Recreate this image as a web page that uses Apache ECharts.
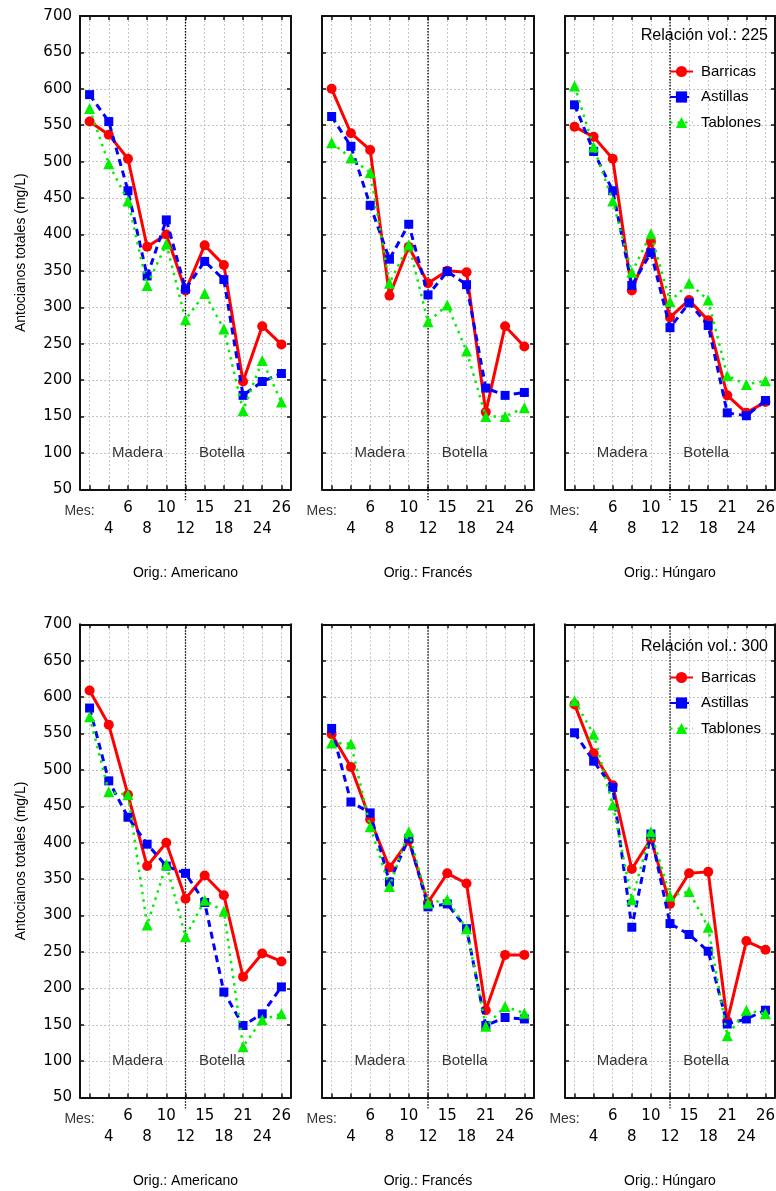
<!DOCTYPE html>
<html>
<head>
<meta charset="utf-8">
<script src="https://cdn.jsdelivr.net/npm/echarts@6/dist/echarts.min.js"></script>
<style>
  html, body { margin: 0; padding: 0; background: #fff; }
  #chart { width: 776px; height: 1191px; }
</style>
</head>
<body>
<div id="chart"></div>
<script>
// Month labels along the x axis (the first slot carries the "Mes:" caption)
const MONTH_LABELS = ['Mes:', '4', '6', '8', '10', '12', '15', '18', '21', '24', '26'];
const ORIGINS = ['Americano', 'Francés', 'Húngaro'];
const RATIOS = ['225', '300'];
const TREATMENTS = ['Barricas', 'Astillas', 'Tablones'];
const PHASES = ['Madera', 'Botella'];
const Y_TICKS = [50, 100, 150, 200, 250, 300, 350, 400, 450, 500, 550, 600, 650, 700];

// Total anthocyanins (mg/L), volume ratio 225
const barricas225Am = [555, 537, 504, 383, 400, 323, 385, 358, 198, 274, 249];
const astillas225Am = [592, 555, 460, 343, 420, 325, 363, 338, 179, 198, 209];
const tablones225Am = [573, 497, 446, 330, 387, 283, 319, 270, 158, 227, 170];

const barricas225Fr = [600, 539, 516, 316, 383, 333, 350, 348, 156, 274, 246];
const astillas225Fr = [562, 521, 440, 366, 414, 317, 349, 331, 189, 179, 183];
const tablones225Fr = [526, 505, 485, 333, 386, 280, 303, 240, 150, 150, 162];

const barricas225Hu = [548, 534, 504, 323, 390, 286, 310, 282, 179, 155, 170];
const astillas225Hu = [578, 514, 460, 330, 375, 272, 306, 275, 155, 151, 172];
const tablones225Hu = [604, 520, 446, 348, 401, 308, 333, 310, 206, 194, 199];

// Total anthocyanins (mg/L), volume ratio 300
const barricas300Am = [609, 562, 466, 368, 400, 323, 355, 328, 216, 248, 237];
const astillas300Am = [585, 485, 435, 398, 368, 358, 318, 195, 149, 165, 202];
const tablones300Am = [573, 470, 466, 287, 370, 271, 321, 306, 120, 157, 165];

const barricas300Fr = [549, 504, 432, 366, 403, 318, 358, 344, 170, 246, 246];
const astillas300Fr = [557, 456, 441, 346, 406, 312, 316, 282, 149, 160, 158];
const tablones300Fr = [537, 536, 422, 340, 415, 317, 322, 282, 148, 175, 166];

const barricas300Hu = [590, 523, 479, 364, 405, 316, 358, 360, 155, 265, 253];
const astillas300Hu = [551, 512, 476, 284, 412, 289, 274, 251, 151, 158, 170];
const tablones300Hu = [595, 549, 452, 322, 415, 327, 333, 284, 135, 170, 165];

const PANELS = [
  [[barricas225Am, astillas225Am, tablones225Am],
   [barricas225Fr, astillas225Fr, tablones225Fr],
   [barricas225Hu, astillas225Hu, tablones225Hu]],
  [[barricas300Am, astillas300Am, tablones300Am],
   [barricas300Fr, astillas300Fr, tablones300Fr],
   [barricas300Hu, astillas300Hu, tablones300Hu]]
];

// ---- layout & style ----
const COL_LEFT = [80, 322, 565];
const COL_WIDTH = [211, 212, 210];
const ROW_TOP = [16, 624.3];
const PLOT_HEIGHT = 473.3;
const PHASE_POS = [2.5, 6.9];      // x position (in slot units) of the phase captions
const PHASE_Y = 100;
const BOUNDARY_MONTH = '12';       // end of barrel ageing
const Y_MIN = Y_TICKS[0], Y_MAX = Y_TICKS[Y_TICKS.length - 1];

const TEXT_FONT = 'Liberation Sans, Arial, sans-serif';
const NUM_FONT = 'DejaVu Sans, Verdana, sans-serif';
const GRID_LINE = { color: '#c4c4c4', width: 1, type: [2, 2] };
const FRAME = { color: '#111', width: 2 };
const TICK = { show: true, inside: true, length: 4, lineStyle: { color: '#111', width: 1.5 } };

const SERIES_STYLE = [
  { color: '#ff0000', symbol: 'circle', symbolSize: 10, line: { width: 3, type: 'solid' } },
  { color: '#0000ff', symbol: 'rect', symbolSize: 9, line: { width: 3, type: [7, 5] } },
  { color: '#00f000', symbol: 'triangle', symbolSize: 11, line: { width: 2.5, type: [2.5, 5] } }
];

const slots = MONTH_LABELS.map((_, i) => i);

const grid = [], xAxis = [], yAxis = [], series = [];

RATIOS.forEach((ratio, r) => {
  ORIGINS.forEach((origin, c) => {
    const g = r * 3 + c;
    grid.push({
      left: COL_LEFT[c], top: ROW_TOP[r], width: COL_WIDTH[c], height: PLOT_HEIGHT,
      containLabel: false, outerBoundsMode: 'none'
    });

    // bottom axis with staggered month labels
    xAxis.push({
      type: 'value', gridIndex: g, position: 'bottom',
      min: -0.5, max: slots.length - 0.5,
      axisLine: { show: true, onZero: false, lineStyle: FRAME },
      axisTick: Object.assign({ customValues: slots }, TICK),
      splitLine: { show: true, lineStyle: GRID_LINE },
      axisLabel: {
        customValues: slots.slice(1),
        margin: 8.5,
        formatter: (v) => {
          const i = Math.round(v);
          const txt = MONTH_LABELS[i];
          return i % 2 === 0 ? '{n|' + txt + '}\n{e| }' : '{e| }\n{n|' + txt + '}';
        },
        rich: {
          n: { fontFamily: NUM_FONT, fontSize: 15, lineHeight: 21, color: '#000' },
          e: { fontSize: 15, lineHeight: 21 }
        }
      },
      name: 'Orig.: ' + origin,
      nameLocation: 'middle',
      nameGap: 77,
      nameTextStyle: { fontFamily: TEXT_FONT, fontSize: 14, color: '#000' }
    });
    // top frame edge with ticks
    xAxis.push({
      type: 'value', gridIndex: g, position: 'top',
      min: -0.5, max: slots.length - 0.5,
      axisLine: { show: true, onZero: false, lineStyle: FRAME },
      axisTick: Object.assign({ customValues: slots }, TICK),
      axisLabel: { show: false, customValues: slots },
      splitLine: { show: false }
    });

    yAxis.push({
      type: 'value', gridIndex: g, position: 'left',
      min: Y_MIN, max: Y_MAX, interval: 50,
      axisLine: { show: true, onZero: false, lineStyle: FRAME },
      axisTick: TICK,
      splitLine: { show: true, lineStyle: GRID_LINE },
      axisLabel: { show: c === 0, margin: 8, fontFamily: NUM_FONT, fontSize: 15, color: '#000' },
      name: c === 0 ? 'Antocianos totales (mg/L)' : '',
      nameLocation: 'middle',
      nameGap: 52,
      nameTextStyle: { fontFamily: TEXT_FONT, fontSize: 14, color: '#000' }
    });
    yAxis.push({
      type: 'value', gridIndex: g, position: 'right',
      min: Y_MIN, max: Y_MAX, interval: 50,
      axisLine: { show: true, onZero: false, lineStyle: FRAME },
      axisTick: TICK,
      axisLabel: { show: false },
      splitLine: { show: false }
    });

    const xi = 2 * g, yi = 2 * g;

    // barrel / bottle boundary
    series.push({
      type: 'custom', xAxisIndex: xi, yAxisIndex: yi, silent: true, z: 1,
      data: [[MONTH_LABELS.indexOf(BOUNDARY_MONTH)]],
      renderItem: (params, api) => {
        const top = api.coord([api.value(0), Y_MAX]);
        const bot = api.coord([api.value(0), Y_MIN]);
        return {
          type: 'line',
          shape: { x1: top[0], y1: top[1], x2: bot[0], y2: bot[1] + 11 },
          style: { stroke: '#000', lineWidth: 1.3, lineDash: [1.5, 1.5] }
        };
      }
    });

    // phase captions
    series.push({
      type: 'scatter', xAxisIndex: xi, yAxisIndex: yi, silent: true,
      symbolSize: 0,
      data: PHASES.map((p, k) => ({ name: p, value: [PHASE_POS[k], PHASE_Y] })),
      label: {
        show: true, position: 'inside', formatter: '{b}',
        fontFamily: TEXT_FONT, fontSize: 15, color: '#000'
      }
    });

    // "Mes:" caption under the first slot
    series.push({
      type: 'scatter', xAxisIndex: xi, yAxisIndex: yi, silent: true,
      symbolSize: 0, clip: false,
      data: [{ name: MONTH_LABELS[0], value: [slots[0], Y_MIN] }],
      label: {
        show: true, position: 'bottom', distance: 15, offset: [-10, 0],
        formatter: '{b}', fontFamily: TEXT_FONT, fontSize: 14, color: '#000'
      }
    });

    TREATMENTS.forEach((name, s) => {
      const st = SERIES_STYLE[s];
      series.push({
        type: 'line', name: name, xAxisIndex: xi, yAxisIndex: yi,
        data: PANELS[r][c][s].map((v, i) => [slots[i], v]),
        symbol: st.symbol, symbolSize: st.symbolSize,
        color: st.color,
        itemStyle: { color: st.color },
        lineStyle: { color: st.color, width: st.line.width, type: st.line.type },
        z: 3 + s
      });
    });
  });
});

const legendBase = {
  orient: 'vertical', left: 669, padding: 0,
  itemWidth: 23, itemHeight: 14, itemGap: 10.5,
  data: TREATMENTS,
  selectedMode: false,
  textStyle: { fontFamily: TEXT_FONT, fontSize: 15, color: '#000', lineHeight: 14, padding: [0, 0, 0, 3] }
};

const titleBase = {
  right: 8, padding: 0,
  textStyle: { fontFamily: TEXT_FONT, fontSize: 16, fontWeight: 'normal', color: '#000' }
};

const option = {
  animation: false,
  backgroundColor: '#fff',
  title: [
    Object.assign({ text: 'Relación vol.: ' + RATIOS[0], top: 28 }, titleBase),
    Object.assign({ text: 'Relación vol.: ' + RATIOS[1], top: 639 }, titleBase)
  ],
  legend: [
    Object.assign({ top: 64 }, legendBase),
    Object.assign({ top: 670 }, legendBase)
  ],
  grid, xAxis, yAxis, series
};

echarts.init(document.getElementById('chart'), null, { renderer: 'canvas' }).setOption(option);
</script>
</body>
</html>
